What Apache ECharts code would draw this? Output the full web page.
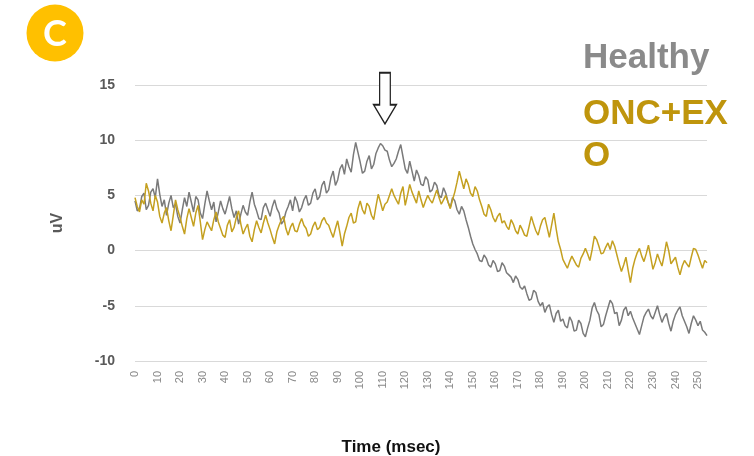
<!DOCTYPE html>
<html>
<head>
<meta charset="utf-8">
<script src="https://cdn.jsdelivr.net/npm/echarts@6/dist/echarts.min.js"></script>
<style>
  html, body { margin: 0; padding: 0; background: #fff; }
  #main { width: 754px; height: 456px; }
</style>
</head>
<body>
<div id="main"></div>
<script>
// time axis, 1 ms steps
var times = [];
for (var t = 0; t <= 254; t++) times.push(String(t));

var seriesNames = ['Healthy', 'ONC+EXO'];

var healthy = [
  4.5, 3.6, 3.8, 4.9, 5.2, 3.7, 4.1, 5.3, 5.6, 4.8,
  6.5, 5.1, 4.0, 4.6, 3.2, 4.3, 5.0, 3.9, 4.2, 3.1,
  2.5, 3.7, 4.8, 4.0, 5.3, 4.4, 3.5, 4.9, 4.6, 3.4,
  2.9, 4.2, 5.4, 4.5, 3.7, 4.4, 2.6, 3.5, 4.5, 3.8,
  3.3, 4.1, 4.9, 3.8, 3.0, 3.6, 2.4, 3.3, 4.1, 3.5,
  3.2, 4.4, 5.3, 4.2, 3.6, 2.9, 2.8, 3.9, 4.3, 3.7,
  3.1, 4.0, 4.6, 3.8, 3.4, 2.4, 2.7, 3.5, 4.0, 4.6,
  3.6, 4.9, 4.4, 3.5, 3.9, 4.6, 5.0, 4.1, 4.3, 5.2,
  5.6, 4.6, 4.9, 5.9, 6.3, 5.2, 5.5, 6.6, 7.2, 5.9,
  6.4, 7.4, 7.8, 6.9, 8.3, 7.6, 7.1, 8.7, 9.8, 8.9,
  8.0, 7.0, 7.2, 8.1, 8.6, 7.4, 7.8, 8.8, 9.3, 9.7,
  9.5, 9.1, 9.0, 8.2, 7.6, 7.9, 8.3, 9.0, 9.6, 8.5,
  7.4, 7.0, 8.1, 7.2, 6.3, 7.3, 6.8, 6.0, 5.9, 6.7,
  6.4, 5.3, 5.5, 6.2, 5.9, 5.0, 4.8, 5.7, 5.2, 4.4,
  3.9, 4.8, 4.5, 3.7, 3.3, 4.0, 3.6, 2.8, 2.1, 1.3,
  0.6, 0.1, -0.3, -0.9, -1.0, -0.4, -0.7, -1.3, -1.5, -0.9,
  -1.2, -1.9, -1.8, -1.1, -1.4, -2.0, -2.2, -2.4, -2.9, -2.3,
  -2.6, -3.3, -3.5, -3.2, -3.9, -4.5, -4.4, -3.6, -3.8, -4.6,
  -5.0, -4.7, -5.6, -5.1, -4.9, -5.8, -6.5, -5.7, -5.4, -6.4,
  -6.2, -6.8, -7.0, -6.0, -6.4, -7.3, -7.2, -6.3, -6.6, -7.5,
  -7.8, -7.0, -6.3, -5.2, -4.7, -5.4, -5.8, -6.9, -6.7, -5.9,
  -5.2, -4.5, -4.8, -5.7, -5.6, -6.8, -6.3, -5.4, -5.1, -5.9,
  -5.5, -6.1, -6.6, -7.1, -7.6, -6.8, -6.0, -5.6, -5.3, -5.9,
  -6.2, -5.6, -5.0, -5.8, -6.5, -6.0, -5.7, -6.6, -7.3, -6.4,
  -5.8, -5.4, -5.1, -5.9, -6.4, -6.9, -7.5, -6.6, -5.9, -6.3,
  -6.8, -6.4, -7.2, -7.4, -7.7
];

var oncExo = [
  4.8, 4.0, 3.5, 4.6, 4.2, 6.1, 5.4, 4.3, 3.6, 5.0,
  4.4, 3.1, 2.5, 3.4, 3.9, 2.7, 1.8, 3.2, 4.6, 3.7,
  3.0, 2.2, 1.5, 2.9, 3.8, 3.0, 2.2, 3.4, 4.1, 2.6,
  1.0, 1.9, 2.6, 2.2, 1.8, 2.8, 3.5, 2.6, 2.0, 1.4,
  1.2, 2.3, 2.8, 1.7, 2.1, 3.0, 3.6, 2.4, 1.5, 2.0,
  2.4, 1.3, 0.8, 1.9, 2.7, 2.1, 1.6, 2.5, 3.2, 2.5,
  1.9, 1.2, 0.6, 1.7, 2.3, 2.8, 3.1, 2.0, 1.4, 2.1,
  2.5, 1.8, 1.7, 2.4, 2.9, 2.3, 2.0, 1.3, 1.5, 2.2,
  2.6, 1.9, 2.1, 2.7, 3.0, 2.5, 2.3, 1.7, 1.2, 2.0,
  2.7, 1.6, 0.4, 1.5, 2.2, 3.0, 3.4, 2.5, 2.6, 3.8,
  4.5, 3.7, 3.3, 4.3, 4.0, 3.2, 2.8, 4.0, 5.1, 4.4,
  3.6, 4.2, 4.4, 5.0, 5.6, 5.0, 4.6, 4.2, 5.2, 5.8,
  4.1, 5.0, 6.0, 5.3, 4.8, 4.3, 5.4, 4.6, 3.9, 4.5,
  5.0, 4.6, 4.3, 4.9, 5.5, 4.8, 4.2, 4.6, 5.0, 4.4,
  3.8, 4.6, 5.3, 6.2, 7.2, 6.4, 5.6, 6.5, 6.0, 5.2,
  4.9, 5.8, 5.4, 4.6, 4.0, 3.3, 3.1, 4.2, 3.7, 3.0,
  2.6, 3.1, 3.4, 2.5, 2.7, 2.2, 1.9, 2.8, 2.4, 1.8,
  1.5, 2.3, 1.9, 1.4, 1.3, 2.2, 3.1, 2.4, 1.8, 1.4,
  2.2, 2.8, 3.0, 2.1, 1.2, 2.3, 3.4, 2.0, 0.8, 0.1,
  -0.8, -1.2, -1.6, -1.0, -0.5, -0.9, -1.3, -1.5, -0.7, -0.3,
  0.2, -0.3, -0.9, 0.1, 1.3, 1.0, 0.4, -0.3, -0.2, 0.3,
  0.7, 0.1, 0.9, 0.4, -0.4, -1.2, -1.9, -1.3, -0.6, -1.8,
  -2.9, -1.6, -0.8, -0.2, 0.2, -0.5, -1.0, -0.3, 0.5, -0.6,
  -1.7, -1.1, -0.3, -0.9, -1.4, -0.4, 0.8, 0.0, -1.2, -0.9,
  -0.6, -1.5, -2.2, -1.4, -0.9, -1.2, -1.5, -0.6, 0.2, 0.1,
  -0.4, -1.0, -1.6, -0.9, -1.1
];

var yTicks = [-10, -5, 0, 5, 10, 15];

var chart = echarts.init(document.getElementById('main'));
var option = {
  animation: false,
  backgroundColor: '#fff',
  graphic: [
    {
      type: 'circle',
      shape: { cx: 55, cy: 33, r: 28.5 },
      style: { fill: '#FFC000' }
    },
    {
      type: 'text',
      x: 55, y: 34,
      style: {
        text: 'C', fill: '#fff', font: 'bold 36px Lato, "Liberation Sans", Arial',
        textAlign: 'center', textVerticalAlign: 'middle'
      }
    },
    {
      type: 'text',
      x: 391, y: 447,
      style: {
        text: 'Time (msec)', fill: '#111', font: 'bold 17px "Liberation Sans", Arial',
        textAlign: 'center', textVerticalAlign: 'middle'
      }
    }
  ],
  legend: {
    orient: 'vertical',
    left: 573,
    top: 32,
    icon: 'none',
    itemWidth: 0,
    itemHeight: 0,
    itemGap: 14,
    selectedMode: false,
    textStyle: {
      fontFamily: '"Liberation Sans", Arial',
      fontWeight: 'bold',
      fontSize: 35,
      lineHeight: 42,
      width: 160,
      overflow: 'breakAll',
      padding: 0
    },
    data: [
      { name: seriesNames[0], textStyle: { color: '#8a8a8a' } },
      { name: seriesNames[1], textStyle: { color: '#bf950c' } }
    ]
  },
  grid: { left: 135, right: 47, top: 85, bottom: 95 },
  xAxis: {
    type: 'category',
    data: times,
    boundaryGap: false,
    axisLine: { show: false },
    axisTick: { show: false },
    axisLabel: {
      interval: 9,
      rotate: 90,
      margin: 10,
      color: '#888',
      fontSize: 11,
      fontFamily: '"Liberation Sans", Arial'
    },
    splitLine: { show: false }
  },
  yAxis: {
    type: 'value',
    min: yTicks[0],
    max: yTicks[yTicks.length - 1],
    interval: 5,
    name: 'uV',
    nameLocation: 'middle',
    nameRotate: 90,
    nameGap: 69,
    nameTextStyle: {
      color: '#595959', fontWeight: 'bold', fontSize: 16,
      fontFamily: '"Liberation Sans", Arial'
    },
    axisLine: { show: false },
    axisTick: { show: false },
    axisLabel: {
      margin: 20,
      color: '#595959',
      fontWeight: 'bold',
      fontSize: 14,
      fontFamily: '"Liberation Sans", Arial'
    },
    splitLine: { lineStyle: { color: '#d9d9d9', width: 1 } }
  },
  series: [
    {
      name: seriesNames[0],
      type: 'line',
      data: healthy,
      showSymbol: false,
      lineStyle: { color: '#7a7a7a', width: 1.5 },
      itemStyle: { color: '#7a7a7a' },
      markPoint: {
        symbol: 'path://M9,0 L25,0 L25,32 L34,32 L17,51 L0,32 L9,32 Z',
        symbolSize: [34, 51],
        symbolKeepAspect: true,
        itemStyle: { color: '#fff', borderColor: '#222', borderWidth: 1.5 },
        label: { show: false },
        data: [{ coord: ['111', 13.8] }]
      }
    },
    {
      name: seriesNames[1],
      type: 'line',
      data: oncExo,
      showSymbol: false,
      lineStyle: { color: '#c4a020', width: 1.5 },
      itemStyle: { color: '#c4a020' }
    }
  ]
};
chart.setOption(option);
</script>
</body>
</html>
